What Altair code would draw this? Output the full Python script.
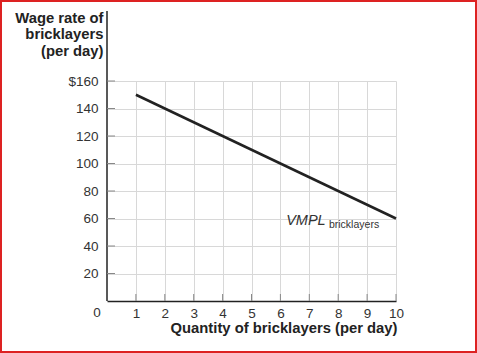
import altair as alt
import pandas as pd

# ---- data ----
quantity = [1, 10]
vmpl = [150, 60]
x_ticks = [1, 2, 3, 4, 5, 6, 7, 8, 9, 10]
y_ticks = [20, 40, 60, 80, 100, 120, 140, 160]
curve_label = "VMPL"
curve_sub = "bricklayers"
x_title = "Quantity of bricklayers (per day)"
y_title = ["Wage rate of", "bricklayers", "(per day)"]

W, H = 289, 220
FONT = "Liberation Sans"

line_df = pd.DataFrame({"q": quantity, "w": vmpl})
xt_df = pd.DataFrame({"q": x_ticks})
yt_df = pd.DataFrame({"w": y_ticks})
zero_df = pd.DataFrame({"q": [0], "w": [0], "t": ["0"]})
lab_df = pd.DataFrame({"q": [6.2], "w": [55], "t": [curve_label]})
sub_df = pd.DataFrame({"q": [7.68], "w": [53], "t": [curve_sub]})
one = pd.DataFrame({"a": [0]})

xs = alt.Scale(domain=[0, 10], nice=False, zero=False)
ys = alt.Scale(domain=[0, 160], nice=False)

x_axis = alt.Axis(
    values=x_ticks, tickCount=len(x_ticks), grid=True,
    ticks=False, domainColor="#222", domainWidth=1.5, labelPadding=5,
    title=x_title, titleAlign="right", titleAnchor="end",
    titleX=W + 1, titleY=19, titleBaseline="top",
)
y_axis = alt.Axis(
    values=y_ticks, tickCount=len(y_ticks), grid=True,
    ticks=False, domain=False, labelPadding=9,
    labelExpr="datum.value == 160 ? '$160' : datum.label",
    title=y_title, titleAngle=0, titleAlign="right", titleBaseline="top",
    titleX=-4, titleY=-71, titleLineHeight=16.5,
)

line = alt.Chart(line_df).mark_line(color="#222", strokeWidth=2.5).encode(
    x=alt.X("q:Q", scale=xs, axis=x_axis),
    y=alt.Y("w:Q", scale=ys, axis=y_axis),
)

yline = alt.Chart(one).mark_rule(color="#222", strokeWidth=1.5).encode(
    x=alt.value(0), y=alt.value(-70), y2=alt.value(H)
)

xticks = alt.Chart(xt_df).mark_rule(color="#888", strokeWidth=1).encode(
    x=alt.X("q:Q", scale=xs), y=alt.value(H), y2=alt.value(H - 7)
)
yticks = alt.Chart(yt_df).mark_rule(color="#888", strokeWidth=1).encode(
    y=alt.Y("w:Q", scale=ys), x=alt.value(0), x2=alt.value(8)
)

zero = alt.Chart(zero_df).mark_text(
    font=FONT, fontSize=13.5, color="#333", dx=-10, dy=5, baseline="top", align="center"
).encode(x=alt.X("q:Q", scale=xs), y=alt.Y("w:Q", scale=ys), text="t:N")

lab = alt.Chart(lab_df).mark_text(
    font=FONT, fontSize=14.5, fontStyle="italic", color="#333", align="left", baseline="alphabetic"
).encode(x=alt.X("q:Q", scale=xs), y=alt.Y("w:Q", scale=ys), text="t:N")
sub = alt.Chart(sub_df).mark_text(
    font=FONT, fontSize=10.5, color="#333", align="left", baseline="alphabetic"
).encode(x=alt.X("q:Q", scale=xs), y=alt.Y("w:Q", scale=ys), text="t:N")

border = alt.Chart(one).mark_rect(filled=False, stroke="#dd2222", strokeWidth=2).encode(
    x=alt.value(-106), x2=alt.value(369), y=alt.value(-80), y2=alt.value(271)
)

chart = alt.layer(line, yline, xticks, yticks, zero, lab, sub, border).properties(
    width=W, height=H,
    padding={"left": 107, "top": 81, "right": 81, "bottom": 52},
    autosize=alt.AutoSizeParams(type="none"),
    background="white",
).configure_view(stroke=None).configure_axis(
    gridColor="#d8d8d8", gridWidth=1,
    labelOverlap=False, labelBound=False, labelFlush=False,
    labelFont=FONT, labelFontSize=13.5, labelColor="#333",
    titleFont=FONT, titleFontSize=14.8, titleFontWeight="bold", titleColor="#222",
)

chart.save("out.html", embed_options={"renderer": "svg", "actions": False})
